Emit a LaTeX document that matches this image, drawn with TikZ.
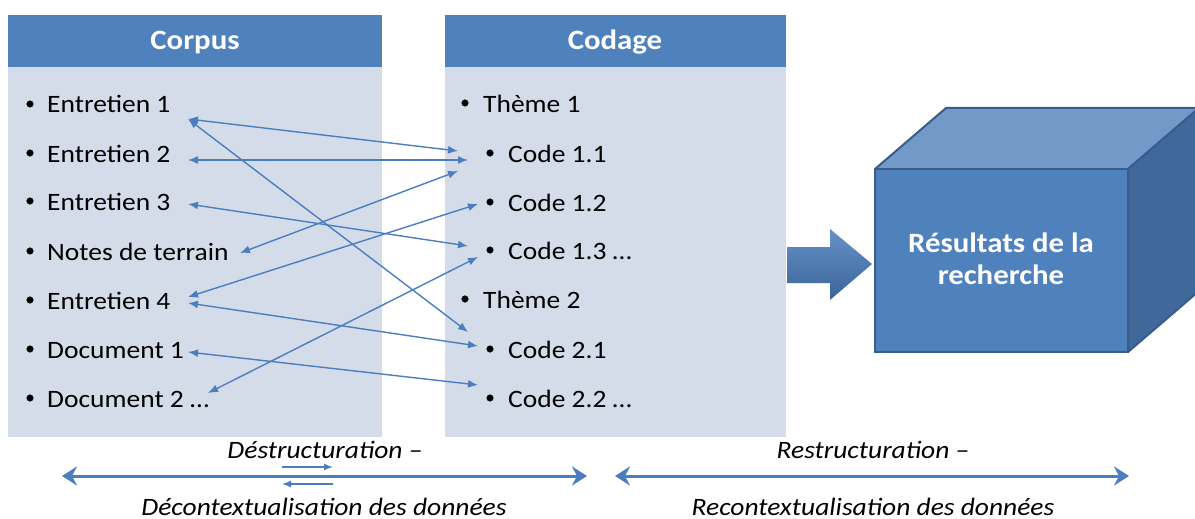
\documentclass[tikz,border=0pt]{standalone}
\usepackage{fontspec}
\setmainfont{Carlito}[FakeStretch=1.1]
\usetikzlibrary{arrows.meta}

\definecolor{headblue}{HTML}{4F81BD}
\definecolor{bodyblue}{HTML}{D4DCEA}
\definecolor{linkblue}{HTML}{4A7EBF}
\definecolor{cubetop}{HTML}{7399C8}
\definecolor{cubeside}{HTML}{41689A}
\definecolor{cubeline}{HTML}{385D8A}

\tikzset{
  item/.style={anchor=base west, inner sep=0pt, font=\fontsize{25}{30}\selectfont},
  head/.style={anchor=base, inner sep=0pt, text=white, font=\fontsize{28}{34}\selectfont\bfseries},
  link/.style={linkblue, line width=1.4pt, {Latex[length=10pt,width=8pt]}-{Latex[length=10pt,width=8pt]}},
  span/.style={linkblue, line width=3pt, {Stealth[length=15pt,width=19pt,inset=5pt]}-{Stealth[length=15pt,width=19pt,inset=5pt]}},
  caption/.style={anchor=base, inner sep=0pt, font=\fontsize{25}{30}\selectfont\itshape},
}

\begin{document}
\begin{tikzpicture}[x=1pt, y=-1pt]
        \useasboundingbox (0,0) rectangle (1195,519);

        % panels
        \fill[bodyblue] (8,67) rectangle (382,437);
        \fill[headblue] (8,15) rectangle (382,67);
        \node[head] (corpus) at (195,50) {Corpus};

        \fill[bodyblue] (445,67) rectangle (786,437);
        \fill[headblue] (445,15) rectangle (786,67);
        \node[head] (codage) at (615,50) {Codage};

        % corpus items
        \filldraw [black] (30,104) circle (3.3pt);
        \node[item] (ent1) at (47,113) {Entretien 1};
        \filldraw [black] (30,153) circle (3.3pt);
        \node[item] (ent2) at (47,162) {Entretien 2};
        \filldraw [black] (30,201) circle (3.3pt);
        \node[item] (ent3) at (47,210) {Entretien 3};
        \filldraw [black] (30,251) circle (3.3pt);
        \node[item] (notes) at (47,260) {Notes de terrain};
        \filldraw [black] (30,300) circle (3.3pt);
        \node[item] (ent4) at (47,309) {Entretien 4};
        \filldraw [black] (30,349) circle (3.3pt);
        \node[item] (doc1) at (47,358) {Document 1};
        \filldraw [black] (30,398) circle (3.3pt);
        \node[item] (doc2) at (47,407) {Document 2 …};

        % codage items
        \filldraw [black] (465,103) circle (3.3pt);
        \node[item] (theme1) at (483,112) {Thème 1};
        \filldraw [black] (490,153) circle (3.3pt);
        \node[item] (code11) at (508,162) {Code 1.1};
        \filldraw [black] (490,202) circle (3.3pt);
        \node[item] (code12) at (508,211) {Code 1.2};
        \filldraw [black] (490,250) circle (3.3pt);
        \node[item] (code13) at (508,259) {Code 1.3 …};
        \filldraw [black] (465,299) circle (3.3pt);
        \node[item] (theme2) at (483,308) {Thème 2};
        \filldraw [black] (490,349) circle (3.3pt);
        \node[item] (code21) at (508,358) {Code 2.1};
        \filldraw [black] (490,398) circle (3.3pt);
        \node[item] (code22) at (508,407) {Code 2.2 …};

        % link ends
        \coordinate (ent1-r) at (188,119);
        \coordinate (ent2-r) at (188,160);
        \coordinate (ent3-r) at (188,204);
        \coordinate (notes-r) at (240,253);
        \coordinate (ent4-ra) at (188,297);
        \coordinate (ent4-rb) at (188,303);
        \coordinate (doc1-r) at (188,352);
        \coordinate (doc2-r) at (208,393);
        \coordinate (code11-la) at (458,151);
        \coordinate (code11-lb) at (468,160);
        \coordinate (code11-lc) at (458,171);
        \coordinate (code12-l) at (478,204);
        \coordinate (code13-la) at (468,246);
        \coordinate (code13-lb) at (478,257);
        \coordinate (code21-la) at (468,332);
        \coordinate (code21-lb) at (478,346);
        \coordinate (code22-l) at (478,385);

        \draw[link] (ent1-r) -- (code11-la);
        \draw[link] (ent1-r) -- (code21-la);
        \draw[link] (ent2-r) -- (code11-lb);
        \draw[link] (ent3-r) -- (code13-la);
        \draw[link] (notes-r) -- (code11-lc);
        \draw[link] (ent4-ra) -- (code12-l);
        \draw[link] (ent4-rb) -- (code21-lb);
        \draw[link] (doc1-r) -- (code22-l);
        \draw[link] (doc2-r) -- (code13-lb);

        % big arrow
        \shade[top color=linkblue!85!white, bottom color=linkblue!80!black]
          (787,247) -- (830,247) -- (830,229) -- (872,264) -- (830,300)
          -- (830,283) -- (787,283) -- cycle;

        % cube
        \filldraw[fill=cubetop, draw=cubeline, line width=2pt, line join=round]
          (875,169) -- (946,108) -- (1199,108) -- (1128,169) -- cycle;
        \filldraw[fill=cubeside, draw=cubeline, line width=2pt, line join=round]
          (1128,169) -- (1199,108) -- (1199,291) -- (1128,352) -- cycle;
        \filldraw[fill=headblue, draw=cubeline, line width=2pt]
          (875,169) rectangle (1128,352);
        \node[text=white, align=center, font=\fontsize{28}{32}\selectfont\bfseries]
          (result) at (1001,259) {Résultats de la\\recherche};

        % bottom spans
        \node[caption] (destr) at (325,458) {Déstructuration –};
        \node[caption] (decont) at (324,515) {Décontextualisation des données};
        \node[caption] (restr) at (873,458) {Restructuration –};
        \node[caption] (recont) at (873,515) {Recontextualisation des données};

        \coordinate (span1-l) at (62,476);
        \coordinate (span1-r) at (587,476);
        \coordinate (span2-l) at (615,476);
        \coordinate (span2-r) at (1129,476);
        \draw[span] (span1-l) -- (span1-r);
        \draw[span] (span2-l) -- (span2-r);

        \coordinate (fwd-a) at (282,467);
        \coordinate (fwd-b) at (333,467);
        \coordinate (back-a) at (333,484);
        \coordinate (back-b) at (282,484);
        \draw[linkblue, line width=1.4pt, -{Latex[length=9pt,width=7pt]}] (fwd-a) -- (fwd-b);
        \draw[linkblue, line width=1.4pt, -{Latex[length=9pt,width=7pt]}] (back-a) -- (back-b);
      \end{tikzpicture}
\end{document}
